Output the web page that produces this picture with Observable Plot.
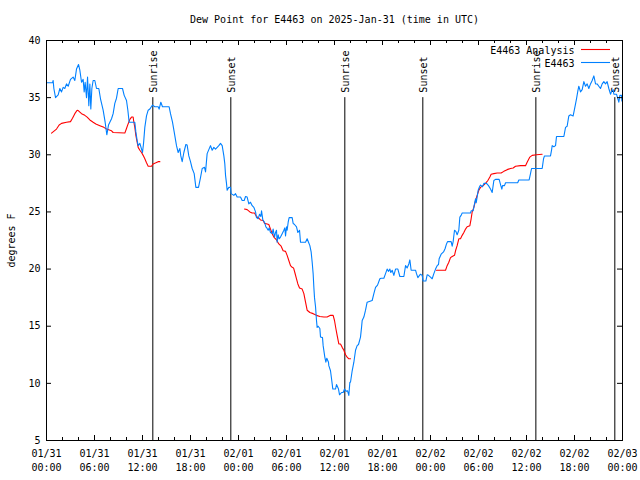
<!DOCTYPE html>
<html>
<head>
<meta charset="utf-8">
<script src="https://cdn.jsdelivr.net/npm/d3@7"></script>
<script src="https://cdn.jsdelivr.net/npm/@observablehq/plot@0.6"></script>
<style>
  html, body { margin: 0; padding: 0; background: white; }
</style>
</head>
<body>
<div id="chart"></div>
<script>
// Hours after 2025-01-31 00:00 UTC
const titleText = "Dew Point for E4463 on 2025-Jan-31 (time in UTC)";
const yLabel = "degrees F";
const seriesNames = ["E4463 Analysis", "E4463"];

const dewHours = [
  0,0.75,0.83,0.92,1.13,1.46,1.67,1.88,2.08,2.29,2.5,2.71,3.0,3.33,3.54,3.75,4.0,4.17,4.38,4.58,4.71,4.83,5.0,5.13,5.29,5.42,5.54,5.67,5.83,6.04,6.25,6.54,6.75,7.08,7.33,7.54,7.75,8.13,8.33,8.54,8.75,8.96,9.5,9.71,10.0,10.17,10.33,11.04,11.17,11.33,11.46,11.67,11.88,12.0,12.13,12.29,12.5,12.71,12.92,13.25,13.54,13.96,14.08,14.29,14.5,15.33,15.5,15.75,15.96,16.25,16.46,16.67,16.79,16.96,17.17,17.42,17.58,17.79,18.0,18.21,18.46,18.67,19.0,19.25,19.46,19.75,19.88,20.08,20.5,20.71,20.92,21.13,21.54,21.75,21.96,22.17,22.29,22.38,22.5,22.58,22.79,23.0,23.08,23.42,23.63,23.83,24.25,24.46,24.71,24.88,25.08,25.29,25.5,25.71,25.92,26.13,26.25,26.46,26.63,26.79,26.88,27.04,27.25,27.42,27.54,27.71,27.83,28.0,28.21,28.33,28.5,28.63,28.75,28.83,28.96,29.08,29.25,29.46,29.67,29.79,29.88,30.0,30.08,30.21,30.33,30.71,30.83,31.0,31.25,31.42,31.63,31.75,32.38,32.58,32.75,32.92,33.08,33.21,33.33,33.42,33.5,33.63,33.75,33.83,33.96,34.17,34.25,34.5,34.58,34.79,34.92,35.04,35.25,35.29,35.5,35.63,35.79,36.13,36.25,36.5,36.63,36.88,37.08,37.25,37.46,37.63,37.79,37.92,38.0,38.21,38.42,38.63,38.83,39.0,39.25,39.38,39.46,39.67,39.88,40.08,40.71,40.92,41.13,41.38,41.67,41.83,42.17,42.38,42.58,42.75,42.92,43.04,43.21,43.42,43.63,43.92,44.17,44.67,44.88,45.08,45.29,45.42,45.58,46.13,46.25,46.42,46.58,46.75,46.96,47.08,47.42,47.58,47.75,48.0,48.21,48.42,48.63,48.83,49.0,49.08,49.33,49.63,49.83,50.0,50.13,50.58,50.71,50.83,51.0,51.17,51.33,51.54,51.67,51.83,51.96,53.0,53.08,53.33,53.5,53.63,53.71,53.83,53.96,54.13,54.25,54.5,54.67,55.0,55.25,55.5,55.71,55.83,55.92,56.13,56.58,56.79,56.92,57.0,57.25,57.38,58.9,59.04,60.33,60.5,60.63,61.96,62.13,62.25,63.0,63.13,63.21,63.42,63.63,63.75,64.67,64.88,65.08,65.29,65.5,65.83,66.0,66.13,66.25,66.42,66.54,66.75,66.96,67.17,67.38,67.58,67.79,68.0,68.21,68.42,68.63,68.83,69.04,69.25,69.46,69.67,69.88,70.08,70.29,70.5,70.67,70.83,70.92,71.25,71.42,71.54,71.67,71.88,71.92
];
const dewValues = [
  36.3,36.3,36.5,35.8,35.0,35.25,35.8,35.5,35.9,35.8,36.2,36.0,36.6,36.8,36.5,37.5,37.9,37.4,36.35,36.6,35.5,36.35,35.0,36.8,34.3,36.2,34.0,35.8,36.5,36.5,35.8,35.8,34.9,33.9,32.85,31.75,32.6,33.15,33.6,34.5,34.95,35.8,35.8,35.2,34.75,33.9,32.85,32.85,32.0,31.25,30.8,31.0,30.5,30.2,31.0,32.4,33.4,33.9,34.0,34.35,34.2,34.2,34.0,34.6,34.2,34.2,33.6,32.85,32.0,30.8,30.2,30.55,29.9,29.4,30.2,30.9,30.85,29.9,29.4,28.8,28.35,27.15,27.15,28.0,28.8,28.9,28.5,30.1,30.8,30.4,30.65,30.5,30.8,31.0,30.8,29.9,29.2,28.2,27.5,26.9,27.15,27.15,26.6,26.45,26.6,26.3,26.3,26.0,26.0,26.35,26.3,25.7,25.85,25.55,25.4,25.0,24.5,24.4,24.8,24.6,25.1,24.3,24.1,23.7,23.6,23.4,23.6,23.2,23.1,23.5,22.8,23.2,23.4,22.35,23.0,22.65,22.8,23.1,23.4,23.6,22.9,23.7,23.4,24.1,24.5,24.5,24.0,23.9,23.7,23.2,23.4,22.35,22.35,22.65,22.35,22.05,21.5,20.6,19.6,18.4,17.5,16.7,15.5,14.9,15.0,14.8,14.05,14.0,13.3,12.3,11.85,12.2,11.85,11.55,11.1,10.4,9.5,9.5,9.9,9.5,9.0,9.2,9.2,9.5,9.3,9.35,8.95,10.1,10.1,11.1,11.85,12.9,13.3,13.4,14.05,14.9,15.5,15.8,16.4,17.1,17.25,17.85,18.4,18.6,19.15,19.2,19.2,19.6,20.0,19.8,20.0,19.7,19.9,19.45,20.0,20.0,19.35,19.35,20.3,20.1,20.45,20.8,19.9,19.9,19.6,19.25,19.4,19.55,19.45,18.95,18.95,19.5,19.45,19.3,19.15,19.6,20.0,20.3,20.4,20.9,21.3,21.5,21.8,22.2,22.4,22.4,22.0,22.4,23.4,23.3,23.0,23.4,24.55,24.7,24.9,24.9,25.1,25.1,25.7,26.15,25.8,26.3,26.9,27.2,27.35,27.2,27.5,27.5,27.3,27.0,26.7,27.3,27.75,27.85,27.85,27.3,27.0,27.3,27.3,27.55,27.55,27.8,27.8,28.35,28.8,28.8,29.65,29.9,29.9,30.4,30.8,30.7,30.8,31.6,31.6,32.4,32.5,33.4,33.5,33.4,34.0,34.45,34.9,35.6,36.0,35.5,35.7,36.4,36.0,36.2,35.8,36.2,36.5,36.9,36.2,36.2,36.0,35.8,36.2,36.4,36.2,36.4,35.8,35.3,35.6,35.7,35.3,35.3,34.9,34.6,35.2,35.2,34.7
];

const analysisHours = [
  0.63,1.25,1.58,1.88,2.5,3.0,3.25,3.54,3.83,4.0,4.38,4.79,5.08,5.42,5.83,6.17,6.67,7.17,7.5,8.13,8.33,9.79,10.0,10.2,10.42,10.63,10.83,10.92,11.04,11.17,11.33,11.46,11.67,11.88,12.08,12.29,12.5,12.71,13.13,13.33,13.67,13.96,14.17,
  24.75,25.08,25.42,25.71,26.0,26.25,26.54,26.75,27.08,27.25,27.58,27.79,28.0,28.21,28.42,28.75,29.04,29.33,29.58,29.88,30.08,30.29,30.5,30.71,30.88,31.04,31.25,31.42,31.63,31.96,32.17,32.38,32.58,32.92,33.33,33.75,34.17,34.67,35.08,35.5,35.83,36.0,36.17,36.33,36.54,36.75,36.96,37.17,37.38,37.58,37.79,38.0,
  48.75,49.25,49.88,50.08,50.29,50.5,50.71,51.0,51.13,51.33,51.54,51.75,51.96,52.17,52.38,52.58,52.92,53.08,53.21,53.42,53.63,53.83,54.04,54.25,54.58,54.88,55.17,55.42,55.58,55.92,56.33,56.83,57.17,57.58,58.0,58.33,58.63,59.25,59.88,60.08,60.42,60.71,61.25,61.96
];
const analysisValues = [
  31.9,32.25,32.6,32.75,32.85,32.9,33.2,33.6,33.9,33.85,33.6,33.45,33.3,33.05,32.85,32.7,32.55,32.4,32.25,32.1,31.95,31.9,32.3,32.7,33.1,33.3,33.3,32.85,32.4,31.7,31.1,30.65,30.4,30.2,29.95,29.65,29.3,29.0,29.0,29.2,29.3,29.4,29.4,
  25.25,25.2,25.0,24.9,24.9,24.6,24.45,24.3,24.25,24.0,23.95,23.9,23.5,23.1,22.8,22.55,22.2,22.0,21.6,21.55,21.2,20.75,20.3,20.15,20.1,19.7,19.15,18.7,18.35,18.25,17.85,17.1,16.4,16.2,16.1,15.95,15.85,15.8,15.8,15.95,15.95,15.5,14.8,14.2,13.45,13.45,13.15,12.9,12.5,12.3,12.15,12.15,
  19.9,19.9,19.9,20.3,20.6,21.0,21.1,21.2,21.6,22.05,22.65,22.65,22.95,23.2,23.5,23.7,23.8,24.4,25.0,25.4,26.0,26.45,26.9,27.15,27.3,27.5,27.75,28.05,28.3,28.35,28.4,28.4,28.55,28.7,28.8,28.85,29.0,29.05,29.05,29.35,29.8,29.95,30.0,30.05
];
const analysisSegmentLengths = [43, 52, 44];

const eventHours = [13.29, 23.04, 37.29, 47.04, 61.17, 71.04];
const eventLabels = ["Sunrise", "Sunset", "Sunrise", "Sunset", "Sunrise", "Sunset"];

const xTickHours = [0, 6, 12, 18, 24, 30, 36, 42, 48, 54, 60, 66, 72];
const xTickLabels = ["01/31\n00:00","01/31\n06:00","01/31\n12:00","01/31\n18:00","02/01\n00:00","02/01\n06:00","02/01\n12:00","02/01\n18:00","02/02\n00:00","02/02\n06:00","02/02\n12:00","02/02\n18:00","02/03\n00:00"];
const xMinorHours = [2,4,8,10,14,16,20,22,26,28,32,34,38,40,44,46,50,52,56,58,62,64,68,70];
const yTicks = [5, 10, 15, 20, 25, 30, 35, 40];

// Build tables
const dew = dewHours.map((h, i) => ({h, v: dewValues[i]}));
const segIds = analysisSegmentLengths.flatMap((n, s) => Array(n).fill(s));
const analysis = analysisHours.map((h, i) => ({h, v: analysisValues[i], seg: segIds[i]}));
const events = eventHours.map((h, i) => ({h, label: eventLabels[i]}));

const W = 640, H = 480;
const mL = 46, mR = 18, mT = 40, mB = 40;
const innerW = W - mL - mR, innerH = H - mT - mB;
const majorLen = 5, minorLen = 3;
const RED = "#ff0000", BLUE = "#0080ff";

const svg = Plot.plot({
  width: W, height: H,
  marginLeft: mL, marginRight: mR, marginTop: mT, marginBottom: mB,
  style: {fontFamily: "'DejaVu Sans Mono', monospace", fontSize: "10px", background: "white", color: "black"},
  x: {domain: [0, 72], axis: null},
  y: {domain: [5, 40], axis: null},
  marks: [
    // event lines
    Plot.ruleX(events, {x: "h", y1: 35, y2: 5, stroke: "black", strokeWidth: 1}),
    Plot.text(events, {x: "h", y: 35, text: "label", rotate: -90, textAnchor: "start", lineAnchor: "middle", dy: -5, dx: 1, fill: "black"}),
    // data
    Plot.line(analysis, {x: "h", y: "v", z: "seg", stroke: RED, strokeWidth: 1.1}),
    Plot.line(dew, {x: "h", y: "v", stroke: BLUE, strokeWidth: 1.1}),
    // ticks (inward, mirrored)
    Plot.ruleX(xTickHours, {x: d => d, insetTop: innerH - majorLen, stroke: "black"}),
    Plot.ruleX(xTickHours, {x: d => d, insetBottom: innerH - majorLen, stroke: "black"}),
    Plot.ruleX(xMinorHours, {x: d => d, insetTop: innerH - minorLen, stroke: "black"}),
    Plot.ruleX(xMinorHours, {x: d => d, insetBottom: innerH - minorLen, stroke: "black"}),
    Plot.ruleY(yTicks, {y: d => d, insetRight: innerW - majorLen, stroke: "black"}),
    Plot.ruleY(yTicks, {y: d => d, insetLeft: innerW - majorLen, stroke: "black"}),
    Plot.frame({stroke: "black"}),
    // tick labels
    Plot.text(xTickHours, {x: d => d, text: (d, i) => xTickLabels[i], frameAnchor: "bottom", lineAnchor: "top", dy: 7, lineHeight: 1.4, fill: "black"}),
    Plot.text(yTicks, {y: d => d, text: d => String(d), frameAnchor: "left", textAnchor: "end", lineAnchor: "middle", dx: -6, fill: "black"}),
    // axis label and title
    Plot.text([yLabel], {text: d => d, frameAnchor: "left", rotate: -90, textAnchor: "middle", lineAnchor: "middle", dx: -35, fill: "black"}),
    Plot.text([titleText], {text: d => d, frameAnchor: "top", textAnchor: "middle", lineAnchor: "middle", dy: -21, fill: "black"}),
    // legend texts
    Plot.text([seriesNames[0]], {text: d => d, frameAnchor: "top-right", textAnchor: "end", lineAnchor: "middle", dx: -48, dy: 10, fill: "black"}),
    Plot.text([seriesNames[1]], {text: d => d, frameAnchor: "top-right", textAnchor: "end", lineAnchor: "middle", dx: -48, dy: 23, fill: "black"})
  ]
});

// legend sample lines
const sel = d3.select(svg);
const lg = sel.append("g");
lg.append("line").attr("x1", 581).attr("x2", 610).attr("y1", 49.5).attr("y2", 49.5).attr("stroke", RED).attr("stroke-width", 1.1);
lg.append("line").attr("x1", 581).attr("x2", 610).attr("y1", 62.5).attr("y2", 62.5).attr("stroke", BLUE).attr("stroke-width", 1.1);

document.getElementById("chart").appendChild(svg);
</script>
</body>
</html>
